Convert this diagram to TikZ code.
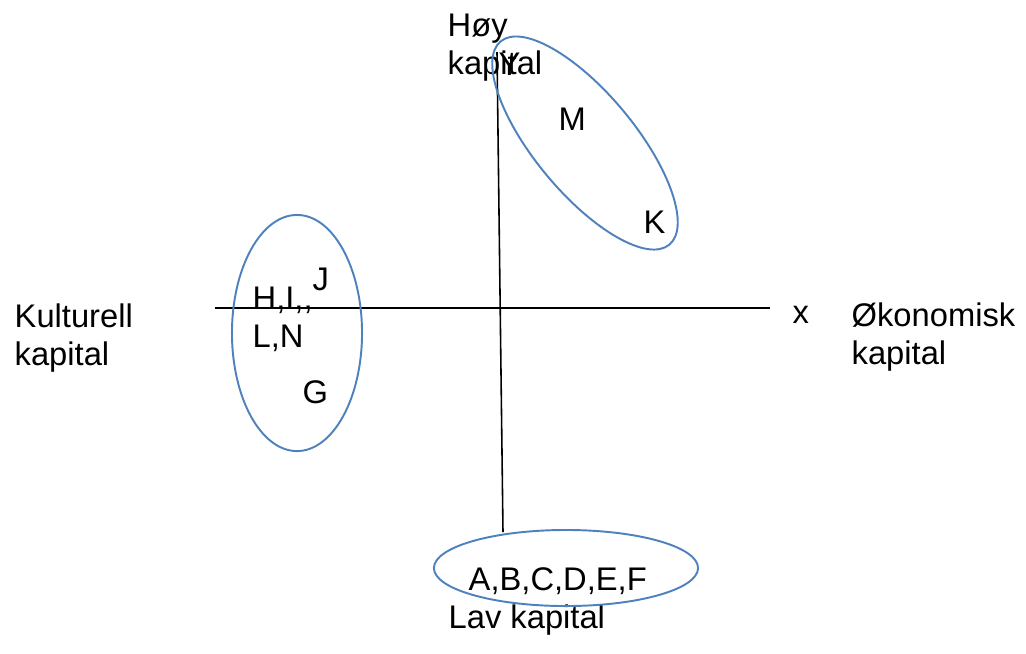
\documentclass[tikz,border=0pt]{standalone}
\usepackage{fontspec}
\setmainfont{Liberation Sans}
\definecolor{ringblue}{RGB}{79,129,189}

\begin{document}
\begin{tikzpicture}[x=0.01cm, y=-0.01cm,
    every node/.style={font=\fontsize{9.3pt}{10.6pt}\selectfont, inner sep=0pt},
    lbl/.style={anchor=base west, align=left},
    axis/.style={black, line width=0.45pt},
    ring/.style={draw=ringblue, line width=0.55pt}]
  \useasboundingbox (0,0) rectangle (1026,653);
  % axes
  \coordinate (west) at (215,308);
  \coordinate (east) at (770,308);
  \coordinate (top) at (497,52);
  \coordinate (bottom) at (503,532);
  \draw[axis] (west) -- (east);
  \draw[axis] (top) -- (bottom);
  % axis labels (base = last line)
  \node[lbl] (kult) at (14,365) {Kulturell\\kapital};
  \node[lbl] (okon) at (851,364) {Økonomisk\\kapital};
  \node[lbl] (hoy) at (447,74) {Høy\\kapital};
  \node[lbl] (lav) at (448,628) {Lav kapital};
  \node[lbl] (xlab) at (792,323) {x};
  \node[lbl] (ylab) at (498,75) {Y};
  % groups
  \draw[ring, rotate around={-50.3:(585,143)}] (585,143) ellipse (1.32cm and 0.5cm);
  \draw[ring] (297,333) ellipse (0.65cm and 1.18cm);
  \draw[ring] (566,568) ellipse (1.32cm and 0.38cm);
  \node[lbl] (m) at (558,130) {M};
  \node[lbl] (k) at (643,233) {K};
  \node[lbl] (j) at (312,290) {J};
  \node[lbl] (hi) at (252,309) {H,I,{},};
  \node[lbl] (ln) at (252,347) {L,N};
  \node[lbl] (g) at (302,403) {G};
  \node[lbl] (af) at (468,590) {A,B,C,D,E,F};
\end{tikzpicture}
\end{document}
